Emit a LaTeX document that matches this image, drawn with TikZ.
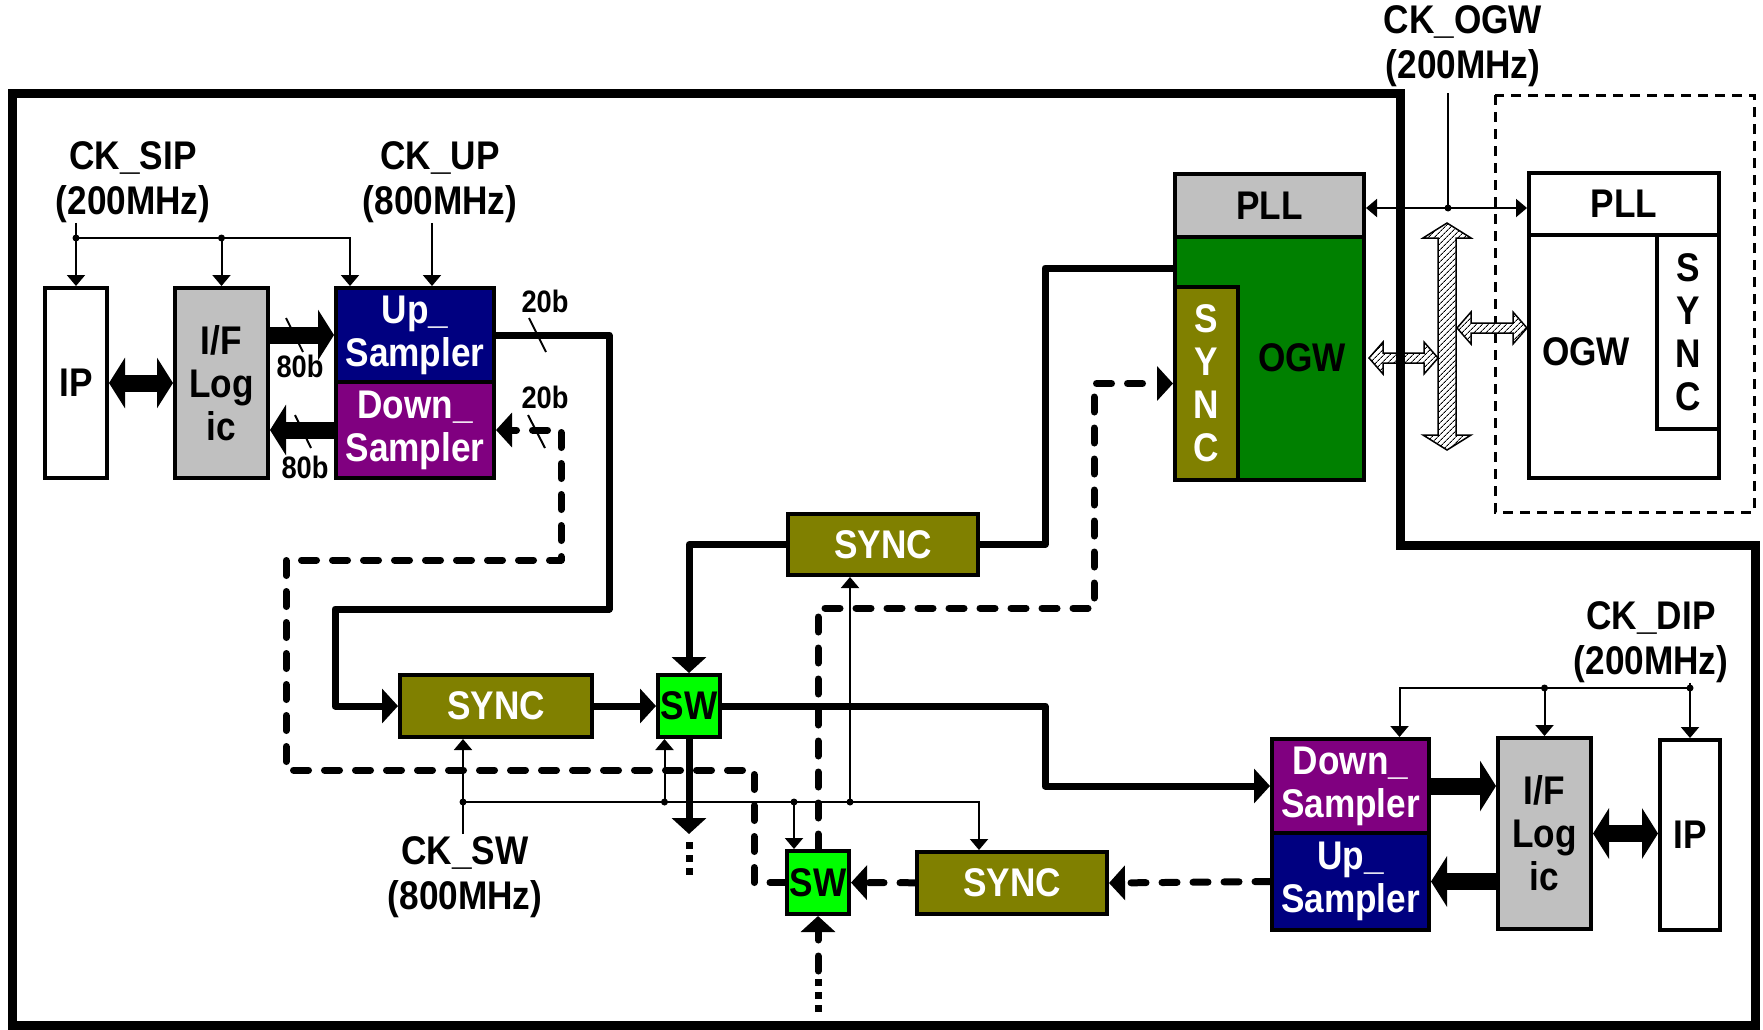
\documentclass[tikz,border=0pt]{standalone}
\usepackage{fontspec}
\setmainfont{Liberation Sans}[FakeStretch=0.88]
\usetikzlibrary{arrows.meta,patterns.meta,calc}
\definecolor{navyc}{HTML}{000080}
\definecolor{purplec}{HTML}{800080}
\definecolor{grayc}{HTML}{C0C0C0}
\definecolor{olivec}{HTML}{808000}
\definecolor{greenc}{HTML}{008000}
\definecolor{swc}{HTML}{00FF00}
\newcommand\lblfont{\fontsize{40}{45}\selectfont\bfseries}
\newcommand\smpfont{\fontsize{40}{43}\selectfont\bfseries}
\newcommand\iffont{\fontsize{40}{43}\selectfont\bfseries}
\newcommand\vfont{\fontsize{40}{43}\selectfont\bfseries}
\newcommand\bitfont{\fontsize{31}{34}\selectfont\bfseries}
\begin{document}
\begin{tikzpicture}[x=1pt,y=-1pt,
  blk/.style={draw, line width=4pt, inner sep=0pt, align=center, font=\lblfont},
  lab/.style={inner sep=0pt, align=center, font=\lblfont},
  bitl/.style={inner sep=0pt, font=\bitfont},
  conn/.style={line width=7pt, line join=round},
  dconn/.style={line width=7pt, line join=round, line cap=round, dash pattern=on 15pt off 16pt},
  dotc/.style={line width=7pt, dash pattern=on 7pt off 6pt},
  thinl/.style={line width=2pt},
  clk/.style={line width=2pt, -{Triangle[length=11pt,width=18pt]}},
  atip/.style={-{Triangle[length=16pt,width=34pt]}},
  busl/.style={line width=17pt},
  btip/.style={-{Triangle[length=16pt,width=50pt]}},
  bboth/.style={{Triangle[length=16pt,width=50pt]}-{Triangle[length=16pt,width=50pt]}},
  jdot/.style={circle, fill, inner sep=0pt, minimum size=7pt},
  hatchar/.style={draw, line width=1.5pt, line join=miter, fill=white, postaction={pattern={Lines[angle=45,distance=4pt,line width=1pt]}}},
]
\useasboundingbox (0,0) rectangle (1763,1029);

% ---------- blocks ----------
\node[blk, fill=white, minimum width=62pt, minimum height=190pt] (ip1) at (76,383) {IP};
\node[blk, fill=grayc, font=\iffont, minimum width=93pt, minimum height=190pt] (if1) at (221.5,383) {I/F\\Log\\ic};
\node[blk, fill=navyc, text=white, font=\smpfont, minimum width=158pt, minimum height=94pt] (ups1) at (415,335) {Up\_\\Sampler};
\node[blk, fill=purplec, text=white, font=\smpfont, minimum width=158pt, minimum height=96pt] (dns1) at (415,430) {Down\_\\Sampler};

\node[blk, fill=olivec, text=white, minimum width=192pt, minimum height=62pt] (sync1) at (496,706) {SYNC};
\node[blk, fill=swc, minimum width=62pt, minimum height=62pt] (sw1) at (689,706) {SW};
\node[blk, fill=olivec, text=white, minimum width=190pt, minimum height=61pt] (sync3) at (883,544.5) {SYNC};
\node[blk, fill=swc, minimum width=62pt, minimum height=63pt] (sw2) at (818,882.5) {SW};
\node[blk, fill=olivec, text=white, minimum width=190pt, minimum height=62pt] (sync4) at (1012,883) {SYNC};

\node[blk, fill=purplec, text=white, font=\smpfont, minimum width=157pt, minimum height=94pt] (dns2) at (1350.5,786) {Down\_\\Sampler};
\node[blk, fill=navyc, text=white, font=\smpfont, minimum width=157pt, minimum height=97pt] (ups2) at (1350.5,881.5) {Up\_\\Sampler};
\node[blk, fill=grayc, font=\iffont, minimum width=93pt, minimum height=191pt] (if2) at (1544.5,833.5) {I/F\\Log\\ic};
\node[blk, fill=white, minimum width=60pt, minimum height=190pt] (ip2) at (1690,835) {IP};

\node[blk, fill=grayc, minimum width=189pt, minimum height=63pt] (pll1) at (1269.5,205.5) {PLL};
\node[blk, fill=greenc, minimum width=189pt, minimum height=243pt] (ogw1) at (1269.5,358.5) {};
\node[blk, fill=olivec, text=white, font=\vfont, minimum width=63pt, minimum height=193pt] (ogwsync) at (1206.5,383.5) {S\\Y\\N\\C};
\node[lab] (ogwt1) at (1302,358) {OGW};

\node[blk, fill=white, minimum width=190pt, minimum height=62pt] (pll2) at (1624,204) {PLL};
\node[blk, fill=white, minimum width=190pt, minimum height=243pt] (ogw2) at (1624,356.5) {};
\node[blk, fill=white, font=\vfont, minimum width=62pt, minimum height=194pt] (ogw2sync) at (1688,332) {S\\Y\\N\\C};
\node[lab] (ogwt2) at (1586,352) {OGW};

\draw[line width=3pt, dash pattern=on 10pt off 7pt] (1495,95) rectangle (1754,512);

% ---------- labels ----------
\node[lab] (cksip) at (133,182) {CK\_SIP\\(200MHz)};
\node[lab] (ckup) at (440,182) {CK\_UP\\(800MHz)};
\node[lab] (ckogw) at (1463,46) {CK\_OGW\\(200MHz)};
\node[lab] (ckdip) at (1651,642) {CK\_DIP\\(200MHz)};
\node[lab] (cksw) at (465,877) {CK\_SW\\(800MHz)};

\node[bitl] (b80a) at (300,366) {80b};
\node[bitl] (b80b) at (305,467) {80b};
\node[bitl] (b20a) at (545,301) {20b};
\node[bitl] (b20b) at (545,397) {20b};

% ---------- hatched OGW bus ----------
\draw[hatchar] (1447,223) -- (1471,238) -- (1456,238) -- (1456,435) -- (1471,435) -- (1447,450) -- (1423,435) -- (1438,435) -- (1438,238) -- (1423,238) -- cycle;
\draw[hatchar] (1369,358) -- (1383,342) -- (1383,353) -- (1424,353) -- (1424,342) -- (1438,358) -- (1424,374) -- (1424,363) -- (1383,363) -- (1383,374) -- cycle;
\draw[hatchar] (1457,328) -- (1471,312) -- (1471,323) -- (1513,323) -- (1513,312) -- (1527,328) -- (1513,344) -- (1513,333) -- (1471,333) -- (1471,344) -- cycle;

% ---------- outer border ----------
\draw[line width=9pt, line join=miter] (12,93) -- (1400,93) -- (1400,545) -- (1755,545) -- (1755,1025) -- (12,1025) -- cycle;

% ---------- CK_SIP / CK_UP ----------
\coordinate (jsip) at (ip1.north |- 0,238);
\path ([xshift=-65pt]ups1.north) coordinate (u1ck)
      ([xshift=-8pt]ckup.south) coordinate (ckupsrc);
\draw[thinl] (cksip.south -| ip1.north) -- (jsip);
\draw[clk] (jsip) -- (ip1.north);
\draw[clk] (jsip) -| (if1.north);
\draw[clk] (jsip) -| (u1ck);
\node[jdot] (dsip1) at (jsip) {};
\node[jdot] (dsip2) at (if1.north |- jsip) {};
\draw[clk] (ckupsrc) -- (ckupsrc |- ups1.north);

% ---------- left data paths ----------
\draw[busl,bboth] (ip1) -- (if1);
\draw[busl,btip] (if1.east |- ups1.west) -- (ups1.west);
\draw[busl,btip] (dns1.west) -- (dns1.west -| if1.east);
\draw[thinl] (286,318) -- (303,352);
\draw[thinl] (295,415) -- (311,448);

\draw[conn,atip] (ups1.east) -| (609,609) -- (335,609) |- (sync1.west);
\draw[thinl] (529,318) -- (546,352);
\draw[dconn,atip] (sw2.west) -| (754,770) -- (286,770) -- (286,560) -- (561,560) |- (dns1.east);
\draw[thinl] (528,415) -- (545,448);

% ---------- switch network ----------
\draw[conn,atip] (sync1) -- (sw1);
\draw[conn,atip] (sw1.east) -- (1045,706) |- (dns2.west);
\coordinate (sw1out) at ($(sw1.south)+(0,140)$);
\draw[conn,atip] (sw1.south) -- ++(0,95);
\draw[dotc] ($(sw1.south)+(0,103)$) -- (sw1out);
\draw[conn,atip] (sync3.west) -| (sw1.north);
\draw[conn] ($(ogw1.north west)+(0,33)$) -- (1045,268) |- (sync3.east);

\draw[dconn,atip] (sw2.north) |- (1094,608) |- (ogwsync.west);
\coordinate (sw2in) at ($(sw2.south)+(0,96)$);
\draw[dotc] (sw2in) -- ++(0,-37);
\draw[dconn,atip] ($(sw2.south)+(0,55)$) -- (sw2.south);
\draw[dconn,atip] (sync4) -- (sw2);
\draw[dconn,atip] (ups2.west) -- (sync4.east);

% ---------- CK_SW ----------
\path (cksw.north) ++(-2,-2) coordinate (ckswsrc);
\coordinate (jsw) at (ckswsrc |- 0,802);
\path ([xshift=-24.5pt]sw1.south) coordinate (sw1ck)
      ([xshift=-24pt]sw2.north) coordinate (sw2ck)
      ([xshift=-33pt]sync3.south) coordinate (s3ck)
      ([xshift=-33pt]sync4.north) coordinate (s4ck);
\draw[thinl] (ckswsrc) -- (jsw);
\draw[clk] (jsw) -- (jsw |- sync1.south);
\draw[clk] (jsw) -| (s4ck);
\draw[clk] (sw1ck |- jsw) -- (sw1ck);
\draw[clk] (sw2ck |- jsw) -- (sw2ck);
\draw[clk] (s3ck |- jsw) -- (s3ck);
\node[jdot] (dsw1) at (jsw) {};
\node[jdot] (dsw2) at (sw1ck |- jsw) {};
\node[jdot] (dsw3) at (sw2ck |- jsw) {};
\node[jdot] (dsw4) at (s3ck |- jsw) {};

% ---------- right data paths ----------
\draw[busl,btip] (dns2.east) -- (dns2.east -| if2.west);
\draw[busl,btip] (if2.west |- ups2.east) -- (ups2.east);
\draw[busl,bboth] (if2.east) -- (if2.east -| ip2.west);

% ---------- CK_DIP ----------
\coordinate (jdip) at (ip2.north |- 0,688);
\path ([xshift=49pt]dns2.north) coordinate (d2ck);
\draw[thinl] (ckdip.south -| ip2.north) -- (jdip);
\draw[clk] (jdip) -- (ip2.north);
\draw[clk] (jdip) -| (if2.north);
\draw[clk] (jdip) -| (d2ck);
\node[jdot] (ddip1) at (jdip) {};
\node[jdot] (ddip2) at (if2.north |- jdip) {};

% ---------- CK_OGW ----------
\coordinate (ckogwsrc) at (1448,93);
\coordinate (jogw) at (1448,208);
\draw[thinl] (ckogwsrc) -- (jogw);
\draw[clk] (jogw) -- (jogw -| pll1.east);
\draw[clk] (jogw) -- (jogw -| pll2.west);
\node[jdot] (dogw) at (jogw) {};
\end{tikzpicture}
\end{document}
